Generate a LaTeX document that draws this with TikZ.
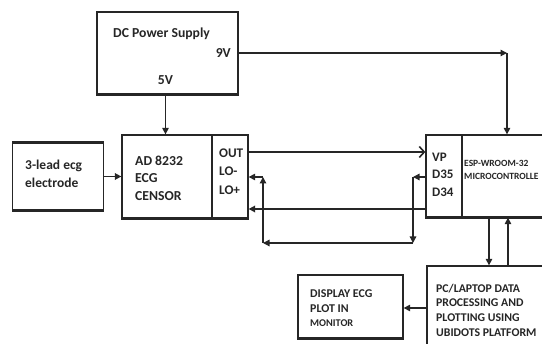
\documentclass[tikz,border=0pt]{standalone}
\usepackage{fontspec}
\setmainfont{Carlito}
\usetikzlibrary{arrows.meta,calc}
\begin{document}
\begin{tikzpicture}[x=1pt,y=-1pt,
  box/.style={draw=black!85,line width=1.3pt,fill=white,inner sep=0pt},
  conn/.style={draw=black!85,line width=1.3pt},
  arr/.style={conn,-{Triangle[length=6.5pt,width=6.5pt]}},
  base/.style={draw=black!85,line width=2.4pt},
  lbl/.style={font=\bfseries\fontsize{13.7}{17.5}\selectfont,anchor=west,align=left,inner sep=0pt,text=black!85},
  small/.style={font=\bfseries\fontsize{9.5}{13}\selectfont,anchor=west,align=left,inner sep=0pt,text=black!85}]
\useasboundingbox (0,0) rectangle (542,344);
\clip (0,0) rectangle (542,344);
% boxes
\node[box,minimum width=141pt,minimum height=82pt] (ps) at (167.5,53) {};
\node[box,draw=none,minimum width=90pt,minimum height=67pt] (el) at (58,176.5) {};
\draw[black!85,line width=0.8pt] (el.north west) -- (el.south west) (el.north east) -- (el.south east);
\draw[black!85,line width=2.6pt] (el.north west) -- (el.north east) (el.south west) -- (el.south east);
\node[box,minimum width=126pt,minimum height=83pt] (ad) at (185,176.5) {};
\draw[black!85,line width=1.1pt] (212,135) -- (212,218);
\node[box,minimum width=140pt,minimum height=82pt] (esp) at (496,176) {};
\draw[black!85,line width=1.1pt] (462,135) -- (462,217);
\node[box,minimum width=140pt,minimum height=100pt] (pc) at (497,316) {};
\node[box,minimum width=105pt,minimum height=63pt] (disp) at (350.5,306.5) {};
\draw[base] (ps.south west) -- (ps.south east);
\draw[base] (ad.south west) -- (ad.south east);
\draw[base] (esp.south west) -- (esp.south east);
\draw[base] (disp.south west) -- (disp.south east);
% texts
\node[lbl] (tps) at (113,34) {DC Power Supply};
\node[lbl,anchor=east] (t9) at (231,53) {9V};
\node[lbl,anchor=center] (t5) at (165.5,80) {5V};
\node[lbl,font=\bfseries\fontsize{13.5}{18}\selectfont] (tel) at (25,173.5) {3-lead ecg\\electrode};
\node[lbl] (tad) at (135,178) {AD 8232\\ECG\\CENSOR};
\node[lbl,font=\bfseries\fontsize{13.2}{18.5}\selectfont] (tout) at (219,171.5) {OUT\\LO-\\LO+};
\node[lbl,font=\bfseries\fontsize{13}{17.5}\selectfont] (tvp) at (432,174.5) {VP\\D35\\D34};
\node[small] (tesp) at (464,169.5) {ESP-WROOM-32\\MICROCONTROLLE};
\node[lbl,font=\bfseries\fontsize{11.8}{14.7}\selectfont] (tpc) at (436,310) {PC/LAPTOP DATA\\PROCESSING AND\\PLOTTING USING\\UBIDOTS PLATFORM};
\node[lbl,font=\bfseries\fontsize{11.9}{14.5}\selectfont] (tdisp) at (310,308.5) {DISPLAY ECG\\PLOT IN\\{\fontsize{10.3}{14.5}\selectfont MONITOR}};
% connector points
\coordinate (c9) at (507,53);
\coordinate (a1) at (413,177);
\coordinate (a2) at (413,243);
\coordinate (a3) at (263,243);
\coordinate (a4) at (263,177);
\coordinate (pd) at (489,0);
\coordinate (pu) at (508,0);
% connectors
\draw[arr] (ps.east |- c9) -- (c9);
\draw[arr] (c9) -- (c9 |- esp.north);
\draw[arr] (t5 |- ps.south) -- (t5 |- ad.north);
\draw[arr,line width=1.8pt] (el.east) -- (el.east -| ad.west);
\draw[conn,line width=1.8pt,-{Straight Barb[length=5pt,width=11pt,line width=1.6pt]}] (ad.east |- 0,152) -- (esp.west |- 0,152);
\draw[arr] (esp.west |- a1) -- (a1);
\draw[arr] (a1) -- (a2);
\draw[arr] (a2) -- (a3);
\draw[arr] (a3) -- (a4);
\draw[arr] (a4) -- (a4 -| ad.east);
\draw[arr,line width=1.8pt] (esp.west |- 0,209) -- (ad.east |- 0,209);
\draw[arr] (pd |- esp.south) -- (pd |- pc.north);
\draw[arr] (pu |- pc.north) -- (pu |- esp.south);
\draw[arr] (pc.west |- 0,308) -- (disp.east |- 0,308);
\end{tikzpicture}
\end{document}
